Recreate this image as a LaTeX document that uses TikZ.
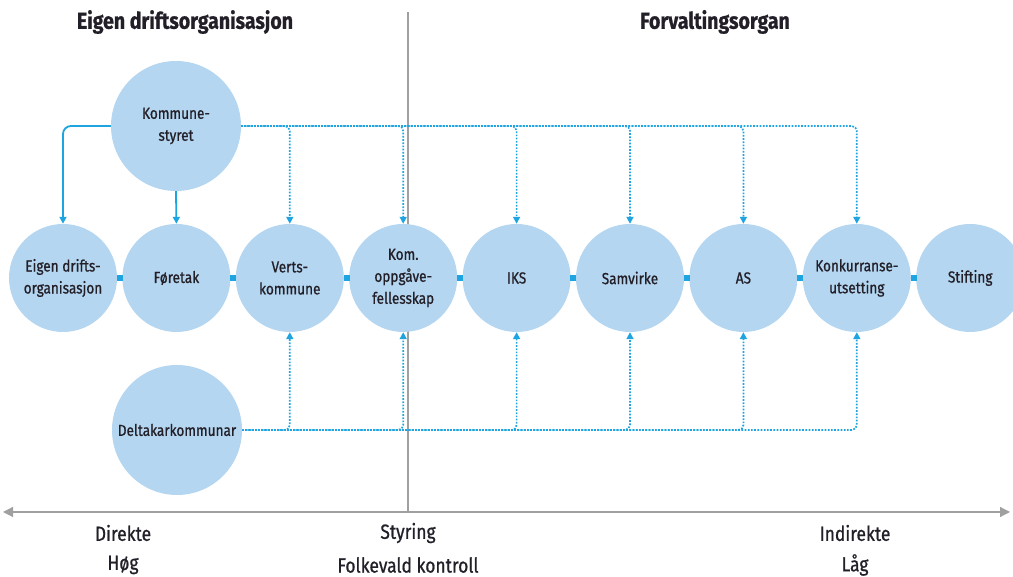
\documentclass[tikz,border=0pt]{standalone}
\usepackage{fontspec}
\setmainfont{Fira Sans}[FakeStretch=0.85, FakeBold=0.8]
\usetikzlibrary{arrows.meta, positioning}
\definecolor{circblue}{RGB}{180,214,240}
\definecolor{linkblue}{RGB}{30,165,225}
\definecolor{axisgray}{RGB}{160,160,160}
\definecolor{textdark}{RGB}{35,31,40}

\begin{document}
\begin{tikzpicture}[x=1pt, y=1pt]
	\tikzset {>={Triangle[width=7pt, length=7pt]}, node distance=5pt,
		org/.style={circle, fill=circblue, minimum size=108pt, inner sep=0pt, align=center, text=textdark, font=\fontsize{16}{22}\selectfont},
		big/.style={org, minimum size=130pt},
		link/.style={fill=linkblue, minimum size=6pt, inner sep=0pt},
		solidline/.style={->, linkblue, line width=1.8pt, rounded corners=8pt},
		dotline/.style={->, linkblue, line width=1.7pt, dash pattern=on 1.7pt off 1.5pt, rounded corners=5pt},
		axisline/.style={axisgray, line width=1.2pt},
		head/.style={text=textdark, font=\fontsize{23}{26}\selectfont\bfseries},
		scale label/.style={text=textdark, font=\fontsize{20.5}{24}\selectfont} }
	\useasboundingbox (0,0) rectangle (1013,577);

	% skiljeline og akse
	\coordinate (top) at (408,565);
	\coordinate (axl) at (3,65);
	\coordinate (axr) at (1010,65);
	\coordinate (mid) at (408,65);
	\draw[axisline] (top) -- (mid);
	\draw[axisline, {Triangle[width=10pt, length=10pt]}-{Triangle[width=10pt, length=10pt]}] (axl) -- (axr);

	% rekka med organisasjonsformer
	\node[org] (eig) at (63,299) {Eigen drifts-\\organisasjon};
	\node[org, right=of eig] (for) {Føretak};
	\node[org, right=of for] (verts) {Verts-\\kommune};
	\node[org, right=of verts] (kom) {Kom.\\oppgåve-\\fellesskap};
	\node[org, right=of kom] (iks) {IKS};
	\node[org, right=of iks] (sam) {Samvirke};
	\node[org, right=of sam] (as) {AS};
	\node[org, right=of as] (konk) {Konkurranse-\\utsetting};
	\node[org, right=of konk] (stift) {Stifting};

	\node[big] (ks) at (176,451) {Kommune-\\styret};
	\node[big, font=\fontsize{16}{20}\selectfont] (del) at (177,147) {Deltakarkommunar};

	\foreach \a/\b in {eig/for, for/verts, verts/kom, kom/iks, iks/sam, sam/as, as/konk, konk/stift}
		\path (\a) -- node[link] (l\a) {} (\b);

	% styring
	\draw[solidline] (ks.west) -| (eig.north);
	\draw[solidline] (ks.south) -- (for.north);
	\foreach \n in {verts, kom, iks, sam, as, konk} {
		\draw[dotline] (ks.east) -| (\n.north);
		\draw[dotline] (del.east) -| (\n.south);
	}

	\node[head] (hl) at (185,555) {Eigen driftsorganisasjon};
	\node[head] (hr) at (715,555) {Forvaltingsorgan};

	\node[scale label] (dir) at (123,44) {Direkte};
	\node[scale label] (hog) at (123,12) {Høg};
	\node[scale label] (sty) at (408,44) {Styring};
	\node[scale label] (fk) at (408,12) {Folkevald kontroll};
	\node[scale label] (ind) at (855,44) {Indirekte};
	\node[scale label] (lag) at (855,12) {Låg};
\end{tikzpicture}
\end{document}
